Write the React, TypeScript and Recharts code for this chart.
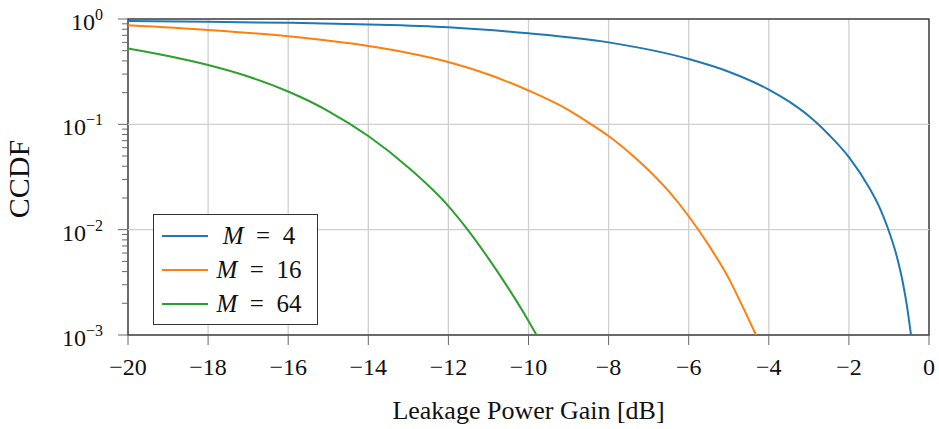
import React from 'react';
import { LineChart, Line, XAxis, YAxis, CartesianGrid, ReferenceLine, ReferenceArea, Legend, Label } from 'recharts';

const FONT = '"Liberation Serif", "DejaVu Serif", serif';

// leakage power gain [dB] / CCDF samples for each array size M
const gainM4 = [-20, -18, -16, -14, -12, -10, -8, -6, -5, -4, -3.5, -3, -2.5, -2, -1.5, -1.25, -1.05, -0.8, -0.65, -0.55, -0.45];
const ccdfM4 = [0.957, 0.94, 0.92, 0.889, 0.836, 0.731, 0.6, 0.417, 0.316, 0.214, 0.165, 0.12, 0.0797, 0.0489, 0.0253, 0.0167, 0.0109, 0.0055, 0.0031, 0.00188, 0.001];

const gainM16 = [-20, -18, -16, -14, -13, -12, -11, -10, -9, -8.47, -8, -7.33, -7, -6.5, -6, -5.5, -5, -4.67, -4.32];
const ccdfM16 = [0.871, 0.786, 0.685, 0.554, 0.4755, 0.3905, 0.297, 0.2094, 0.1367, 0.1022, 0.0774, 0.0479, 0.0367, 0.0232, 0.0134, 0.00711, 0.00345, 0.00192, 0.001];

const gainM64 = [-20, -19, -18, -17, -16, -15, -14, -13, -12, -11.55, -11, -10.5, -10, -9.8];
const ccdfM64 = [0.5248, 0.4454, 0.3657, 0.2844, 0.2048, 0.1337, 0.0774, 0.0389, 0.01675, 0.01035, 0.00534, 0.00277, 0.00136, 0.001];

const orders = [4, 16, 64];
const colors = ['#1f77b4', '#ff7f0e', '#2ca02c'];

const gainTicks = [-20, -18, -16, -14, -12, -10, -8, -6, -4, -2, 0];
const majorTicks = [0.001, 0.01, 0.1, 1];
const mantissas = [2, 3, 4, 5, 6, 7, 8, 9];
const minorTicks = majorTicks.slice(0, -1).flatMap((d) => mantissas.map((m) => +(d * m).toPrecision(3)));
const yTicks = [...majorTicks, ...minorTicks].sort((a, b) => a - b);

const zip = (xs: number[], ys: number[]) => xs.map((gain, i) => ({ gain, ccdf: ys[i] }));
const series = [zip(gainM4, ccdfM4), zip(gainM16, ccdfM16), zip(gainM64, ccdfM64)];

const fmtGain = (v: number) => (v < 0 ? `\u2212${-v}` : `${v}`);

const isMajor = (v: number) => Math.abs(Math.log10(v) - Math.round(Math.log10(v))) < 1e-6;

// log axis tick: long mark + 10^k label on decades, short mark otherwise
const YTick = (props: any) => {
  const { x, y, payload } = props;
  const v = payload.value;
  const major = isMajor(v);
  const exp = Math.round(Math.log10(v));
  return (
    <g>
      <line x1={x - (major ? 10 : 6)} x2={x} y1={y} y2={y} stroke="#666" strokeWidth={1} />
      {major && (
        <text x={x - 25} y={y + 11} textAnchor="end" fontSize={24} fill="#111" fontFamily={FONT}>
          10
          <tspan dy={-10} fontSize={16}>{exp === 0 ? '0' : `\u2212${-exp}`}</tspan>
        </text>
      )}
    </g>
  );
};

const XTitle = (props: any) => {
  const { x, y, width } = props.viewBox;
  return (
    <text x={x + width / 2} y={y + 84} textAnchor="middle" fontSize={26} fill="#111" fontFamily={FONT}>
      Leakage Power Gain [dB]
    </text>
  );
};

const YTitle = (props: any) => {
  const { y, height } = props.viewBox;
  const cy = y + height / 2 + 2;
  return (
    <text x={29} y={cy} transform={`rotate(-90, 29, ${cy})`} textAnchor="middle" fontSize={30} fill="#111" fontFamily={FONT}>
      CCDF
    </text>
  );
};

const renderLegend = () => (
  <div
    style={{
      width: 165,
      height: 111,
      boxSizing: 'border-box',
      border: '1.3px solid #333',
      background: '#fff',
      paddingTop: 4,
      fontFamily: FONT,
      fontSize: 25,
      color: '#111',
    }}
  >
    {orders.map((m, i) => (
      <div key={m} style={{ display: 'flex', alignItems: 'center', height: 34 }}>
        <svg width={55} height={34} style={{ flex: 'none' }}>
          <line x1={8} x2={54} y1={17} y2={17} stroke={colors[i]} strokeWidth={2} />
        </svg>
        <div style={{ flex: 1, textAlign: 'center', paddingRight: 8, lineHeight: '34px' }}>
          <i>M</i>{'\u2002=\u2002'}{m}
        </div>
      </div>
    ))}
  </div>
);

export default function App() {
  return (
    <div style={{ position: 'absolute', left: 0, top: 0, fontFamily: FONT, background: '#fff' }}>
      <LineChart width={939} height={429} margin={{ top: 19, right: 10, bottom: 0, left: 0 }}>
        <CartesianGrid yAxisId="ccdf" horizontal={false} stroke="#cfcfcf" strokeWidth={1.3} />
        {majorTicks.slice(1, -1).map((v) => (
          <ReferenceLine key={v} yAxisId="ccdf" y={v} stroke="#cfcfcf" strokeWidth={1.3} />
        ))}
        <XAxis
          type="number"
          dataKey="gain"
          domain={[-20, 0]}
          ticks={gainTicks}
          interval={0}
          allowDataOverflow
          height={94}
          tickSize={10}
          tickMargin={13}
          tickLine={{ stroke: '#666' }}
          axisLine={false}
          tick={{ fontSize: 24, fill: '#111', fontFamily: FONT }}
          tickFormatter={fmtGain}
        >
          <Label content={XTitle} />
        </XAxis>
        <YAxis
          yAxisId="ccdf"
          type="number"
          scale="log"
          domain={[0.001, 1]}
          allowDataOverflow
          ticks={yTicks}
          interval={0}
          width={128}
          tickSize={0}
          tickMargin={0}
          tickLine={false}
          axisLine={false}
          tick={<YTick />}
        >
          <Label content={YTitle} />
        </YAxis>
        <ReferenceArea yAxisId="ccdf" x1={-20} x2={0} y1={0.001} y2={1} fill="none" stroke="#3a3a3a" strokeWidth={1.4} />
        {series.map((data, i) => (
          <Line
            key={orders[i]}
            yAxisId="ccdf"
            data={data}
            dataKey="ccdf"
            name={`M = ${orders[i]}`}
            type="monotone"
            stroke={colors[i]}
            strokeWidth={2}
            dot={false}
            activeDot={false}
            isAnimationActive={false}
          />
        ))}
        <Legend
          layout="vertical"
          align="center"
          verticalAlign="middle"
          wrapperStyle={{ left: 153, top: 214, width: 165, height: 111 }}
          content={renderLegend}
        />
      </LineChart>
    </div>
  );
}
